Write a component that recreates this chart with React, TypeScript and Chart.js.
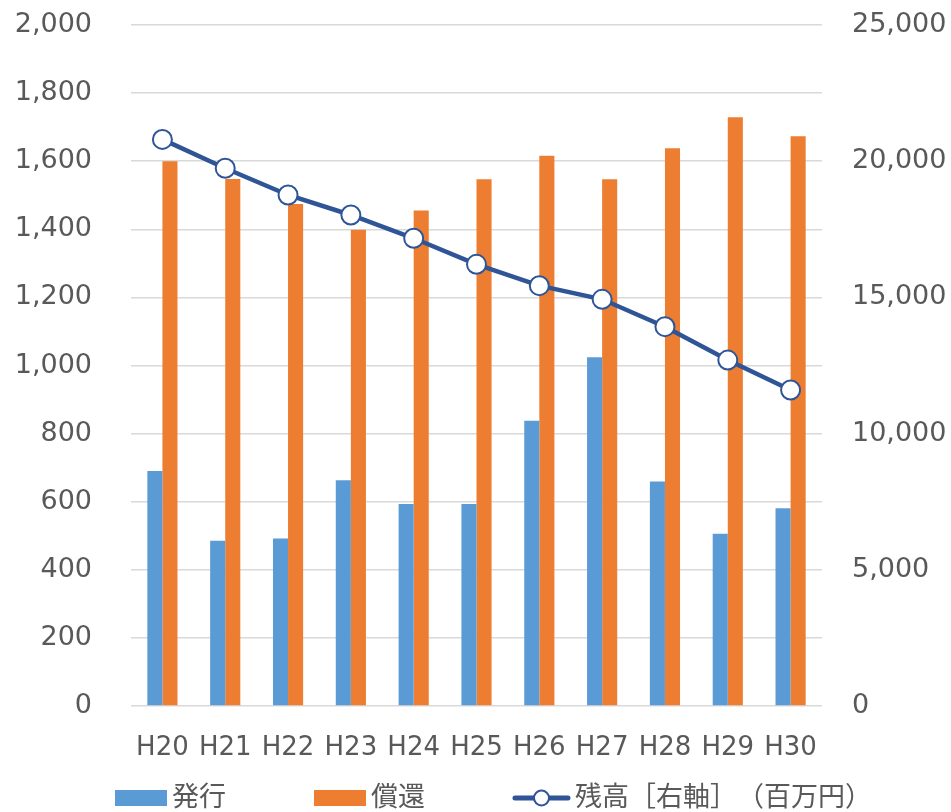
import React, { useEffect, useRef } from 'react';
import { Chart, registerables } from 'chart.js';

Chart.register(...registerables);

// ---- data ----
const categories = ['H20', 'H21', 'H22', 'H23', 'H24', 'H25', 'H26', 'H27', 'H28', 'H29', 'H30'];
const issueValues = [690, 485, 492, 663, 593, 593, 838, 1024, 659, 506, 581];
const redeemValues = [1600, 1548, 1474, 1399, 1455, 1547, 1616, 1547, 1638, 1729, 1673];
const balanceValues = [20800, 19740, 18760, 18025, 17170, 16215, 15430, 14930, 13925, 12700, 11600];
const seriesNames = ['発行', '償還', '残高［右軸］（百万円）'];
const leftAxisMax = 2000;
const leftAxisStep = 200;
const rightAxisMax = 25000;
const rightAxisStep = 5000;

const FONT = '"DejaVu Sans", "Noto Sans CJK JP", sans-serif';
const BLUE = '#5B9BD5';
const ORANGE = '#ED7D31';
const NAVY = '#2F5597';
const TEXT = '#595959';
const GRID = '#D9D9D9';

const fmt = (v: number) => Number(v).toLocaleString('en-US');

const legendPlugin = {
  id: 'excelLegend',
  afterDraw(chart: any) {
    const ctx = chart.ctx as CanvasRenderingContext2D;
    const area = chart.chartArea;
    const y = chart.height - 14;
    ctx.save();
    ctx.font = `27px ${FONT}`;
    ctx.textBaseline = 'middle';
    ctx.textAlign = 'left';
    let x = area.left - 16;
    const items = [
      { text: seriesNames[0], type: 'bar', color: BLUE },
      { text: seriesNames[1], type: 'bar', color: ORANGE },
      { text: seriesNames[2], type: 'line', color: NAVY },
    ];
    items.forEach((it) => {
      if (it.type === 'bar') {
        ctx.fillStyle = it.color;
        ctx.fillRect(x, y - 8, 52, 16);
        x += 52;
      } else {
        ctx.strokeStyle = it.color;
        ctx.lineWidth = 5;
        ctx.lineCap = 'round';
        ctx.beginPath();
        ctx.moveTo(x + 2, y);
        ctx.lineTo(x + 55, y);
        ctx.stroke();
        ctx.beginPath();
        ctx.arc(x + 28.5, y, 7.5, 0, Math.PI * 2);
        ctx.fillStyle = '#FFFFFF';
        ctx.fill();
        ctx.lineWidth = 2;
        ctx.stroke();
        x += 57;
      }
      x += 5;
      ctx.fillStyle = TEXT;
      ctx.fillText(it.text, x, y + 1);
      x += ctx.measureText(it.text).width + 88;
    });
    ctx.restore();
  },
};

export default function App() {
  const canvasRef = useRef<HTMLCanvasElement | null>(null);

  useEffect(() => {
    document.body.style.margin = '0';
    const canvas = canvasRef.current;
    if (!canvas) return;
    const chart = new Chart(canvas, {
      type: 'bar',
      data: {
        labels: categories,
        datasets: [
          {
            type: 'line',
            label: seriesNames[2],
            data: balanceValues,
            yAxisID: 'y1',
            borderColor: NAVY,
            borderWidth: 4.5,
            pointRadius: 9.5,
            pointBackgroundColor: '#FFFFFF',
            pointBorderColor: NAVY,
            pointBorderWidth: 2,
            tension: 0,
            order: 0,
          } as any,
          {
            type: 'bar',
            label: seriesNames[0],
            data: issueValues,
            backgroundColor: BLUE,
            yAxisID: 'y',
            categoryPercentage: 0.48,
            barPercentage: 1,
            order: 1,
          },
          {
            type: 'bar',
            label: seriesNames[1],
            data: redeemValues,
            backgroundColor: ORANGE,
            yAxisID: 'y',
            categoryPercentage: 0.48,
            barPercentage: 1,
            order: 1,
          },
        ],
      },
      options: {
        responsive: true,
        maintainAspectRatio: false,
        animation: false,
        layout: { padding: { left: 0, right: 0, top: 25, bottom: 46 } },
        plugins: {
          legend: { display: false },
          tooltip: { enabled: false },
        },
        scales: {
          x: {
            grid: { display: false, drawTicks: false },
            border: { display: false },
            ticks: {
              color: TEXT,
              font: { family: FONT, size: 26 },
              padding: 27,
              maxRotation: 0,
              autoSkip: false,
            },
            afterFit: (s: any) => { s.height = 60; },
          },
          y: {
            position: 'left',
            min: 0,
            max: leftAxisMax,
            grid: { color: GRID, lineWidth: 1.5, drawTicks: false },
            border: { display: false },
            ticks: {
              stepSize: leftAxisStep,
              color: TEXT,
              font: { family: FONT, size: 27 },
              padding: 39,
              callback: (v: any) => fmt(v),
            },
            afterFit: (s: any) => { s.width = 131; s.paddingTop = 0; s.paddingBottom = 0; },
          },
          y1: {
            position: 'right',
            min: 0,
            max: rightAxisMax,
            grid: { display: false, drawTicks: false, drawOnChartArea: false },
            border: { display: false },
            ticks: {
              stepSize: rightAxisStep,
              color: TEXT,
              font: { family: FONT, size: 27 },
              padding: 30,
              callback: (v: any) => fmt(v),
            },
            afterFit: (s: any) => { s.width = 129; s.paddingTop = 0; s.paddingBottom = 0; },
          },
        },
      },
      plugins: [legendPlugin],
    });
    return () => chart.destroy();
  }, []);

  return (
    <div
      style={{
        width: '951px',
        height: '812px',
        position: 'relative',
        background: '#FFFFFF',
        ['textSpacingTrim' as any]: 'space-all',
      }}
    >
      <canvas ref={canvasRef} style={{ ['textSpacingTrim' as any]: 'space-all' }} />
    </div>
  );
}
